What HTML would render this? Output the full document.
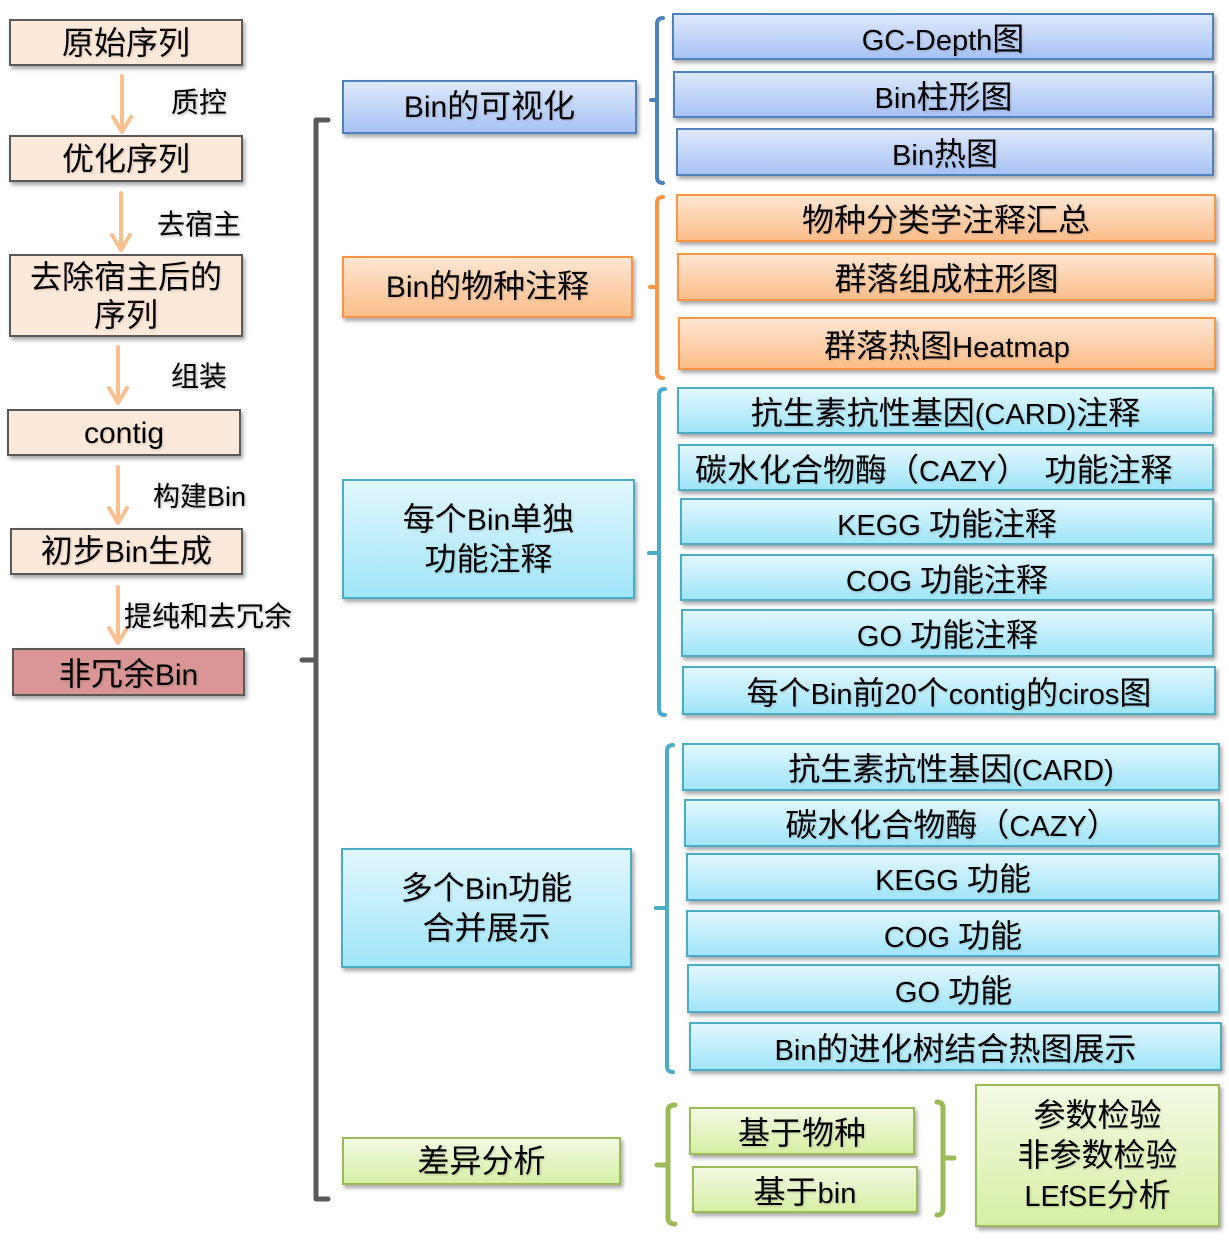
<!DOCTYPE html>
<html>
<head>
<meta charset="utf-8">
<style>
html,body{margin:0;padding:0;background:#fff;}
body{width:1229px;height:1246px;position:relative;overflow:hidden;
font-family:"Liberation Sans","Noto Sans CJK SC","WenQuanYi Zen Hei",sans-serif;color:#000;}
.b{position:absolute;box-sizing:border-box;display:flex;align-items:center;justify-content:center;
text-align:center;white-space:nowrap;box-shadow:2px 3px 4px rgba(0,0,0,0.35);
text-shadow:1px 1px 2px rgba(0,0,0,0.18);font-size:32px;}
.e{font-size:29px;}
.m .e,.L .e,.R .e{font-size:30px;}
.L{background:#fde9d9;border:2px solid #595959;line-height:38px;}
.R{background:#d99694;border:2px solid #595959;}
.bl{background:linear-gradient(to bottom,#dde8fb,#a8c3f4);border:2px solid #4f81bd;}
.or{background:linear-gradient(to bottom,#fde6d3,#fbbd89);border:2px solid #f79646;}
.te{background:linear-gradient(to bottom,#e2f7fd,#a0e5f9);border:2px solid #4bacc6;}
.gr{background:linear-gradient(to bottom,#f3fae4,#d6efa4);border:2px solid #9bbb59;}
.m{line-height:38px;}
.lab{position:absolute;height:40px;line-height:40px;white-space:nowrap;font-size:28px;
text-shadow:1px 1px 3px rgba(0,0,0,0.35);}
svg{position:absolute;left:0;top:0;}
</style>
</head>
<body>
<svg width="1229" height="1246" viewBox="0 0 1229 1246">
  <g fill="none" stroke="#fac090" stroke-width="4" stroke-linecap="round" stroke-linejoin="round">
    <path d="M122 76 L122 131"/><path d="M113 117 L122 132 L131 117"/>
    <path d="M121 193 L121 249"/><path d="M112 235 L121 250 L130 235"/>
    <path d="M118 347 L118 402"/><path d="M109 388 L118 403 L127 388"/>
    <path d="M118 467 L118 522"/><path d="M109 508 L118 523 L127 508"/>
    <path d="M118 587 L118 642"/><path d="M109 628 L118 643 L127 628"/>
  </g>
  <g fill="none" stroke-linecap="round" stroke-linejoin="round">
    <path d="M328 120 L316 120 L316 1199 L328 1199 M316 660 L302 660" stroke="#595959" stroke-width="5"/>
    <path d="M663 18 Q657 18 657 24 L657 177 Q657 183 663 183 M657 100 L651 100" stroke="#4f81bd" stroke-width="4"/>
    <path d="M663 197 Q657 197 657 203 L657 372 Q657 378 663 378 M657 287 L650 287" stroke="#f79646" stroke-width="4"/>
    <path d="M665 389 Q659 389 659 395 L659 709 Q659 715 665 715 M659 553 L649 553" stroke="#4bacc6" stroke-width="4"/>
    <path d="M673 745 Q667 745 667 751 L667 1066 Q667 1072 673 1072 M667 908 L656 908" stroke="#4bacc6" stroke-width="4"/>
    <path d="M675 1105 Q668 1105 668 1111 L668 1218 Q668 1224 675 1224 M668 1165 L657 1165" stroke="#9bbb59" stroke-width="5"/>
    <path d="M937 1102 Q943 1102 943 1108 L943 1209 Q943 1215 937 1215 M943 1158 L954 1158" stroke="#9bbb59" stroke-width="5"/>
  </g>
</svg>

<!-- left column -->
<div class="b L" style="left:9px;top:19px;width:234px;height:47px;"><span>原始序列</span></div>
<div class="b L" style="left:9px;top:135px;width:234px;height:47px;"><span>优化序列</span></div>
<div class="b L" style="left:9px;top:254px;width:234px;height:83px;"><span>去除宿主后的<br>序列</span></div>
<div class="b L" style="left:7px;top:409px;width:234px;height:47px;"><span><span class="e">contig</span></span></div>
<div class="b L" style="left:10px;top:528px;width:233px;height:47px;"><span>初步<span class="e">Bin</span>生成</span></div>
<div class="b R" style="left:12px;top:648px;width:233px;height:48px;"><span>非冗余<span class="e">Bin</span></span></div>

<div class="lab" style="left:171px;top:83px;">质控</div>
<div class="lab" style="left:157px;top:205px;">去宿主</div>
<div class="lab" style="left:171px;top:357px;">组装</div>
<div class="lab" style="left:153px;top:477px;font-size:27px;">构建Bin</div>
<div class="lab" style="left:124px;top:597px;">提纯和去冗余</div>

<!-- middle column -->
<div class="b bl m" style="left:342px;top:80px;width:295px;height:54px;"><span><span class="e">Bin</span>的可视化</span></div>
<div class="b or m" style="left:342px;top:256px;width:291px;height:62px;"><span><span class="e">Bin</span>的物种注释</span></div>
<div class="b te m" style="left:342px;top:479px;width:293px;height:120px;"><div>每个<span class="e">Bin</span>单独<br>功能注释</div></div>
<div class="b te m" style="left:341px;top:848px;width:291px;height:120px;"><div>多个<span class="e">Bin</span>功能<br>合并展示</div></div>
<div class="b gr m" style="left:342px;top:1137px;width:279px;height:48px;"><span>差异分析</span></div>

<!-- right: blue -->
<div class="b bl" style="left:672px;top:13px;width:542px;height:47px;"><span><span class="e">GC-Depth</span>图</span></div>
<div class="b bl" style="left:673px;top:71px;width:541px;height:47px;"><span><span class="e">Bin</span>柱形图</span></div>
<div class="b bl" style="left:676px;top:128px;width:538px;height:48px;"><span><span class="e">Bin</span>热图</span></div>

<!-- right: orange -->
<div class="b or" style="left:676px;top:194px;width:540px;height:48px;"><span>物种分类学注释汇总</span></div>
<div class="b or" style="left:677px;top:253px;width:539px;height:48px;"><span>群落组成柱形图</span></div>
<div class="b or" style="left:678px;top:317px;width:538px;height:53px;"><span>群落热图<span class="e">Heatmap</span></span></div>

<!-- right: teal 1 -->
<div class="b te" style="left:677px;top:387px;width:537px;height:47px;"><span>抗生素抗性基因<span class="e">(CARD)</span>注释</span></div>
<div class="b te" style="left:678px;top:444px;width:536px;height:47px;justify-content:flex-start;padding-left:15px;"><span>碳水化合物酶（<span class="e">CAZY</span>）<span class="e">&nbsp;&nbsp;</span>功能注释</span></div>
<div class="b te" style="left:680px;top:498px;width:534px;height:47px;"><span><span class="e">KEGG&nbsp;</span>功能注释</span></div>
<div class="b te" style="left:680px;top:554px;width:534px;height:47px;"><span><span class="e">COG&nbsp;</span>功能注释</span></div>
<div class="b te" style="left:681px;top:609px;width:533px;height:48px;"><span><span class="e">GO&nbsp;</span>功能注释</span></div>
<div class="b te" style="left:682px;top:666px;width:534px;height:49px;"><span>每个<span class="e">Bin</span>前<span class="e">20</span>个<span class="e">contig</span>的<span class="e">ciros</span>图</span></div>

<!-- right: teal 2 -->
<div class="b te" style="left:682px;top:743px;width:538px;height:48px;"><span>抗生素抗性基因<span class="e">(CARD)</span></span></div>
<div class="b te" style="left:684px;top:799px;width:536px;height:48px;"><span>碳水化合物酶（<span class="e">CAZY</span>）</span></div>
<div class="b te" style="left:686px;top:853px;width:534px;height:48px;"><span><span class="e">KEGG&nbsp;</span>功能</span></div>
<div class="b te" style="left:686px;top:910px;width:534px;height:47px;"><span><span class="e">COG&nbsp;</span>功能</span></div>
<div class="b te" style="left:687px;top:964px;width:533px;height:49px;"><span><span class="e">GO&nbsp;</span>功能</span></div>
<div class="b te" style="left:689px;top:1022px;width:533px;height:49px;"><span><span class="e">Bin</span>的进化树结合热图展示</span></div>

<!-- right: green -->
<div class="b gr" style="left:689px;top:1107px;width:226px;height:48px;"><span>基于物种</span></div>
<div class="b gr" style="left:692px;top:1166px;width:226px;height:47px;"><span>基于<span class="e">bin</span></span></div>
<div class="b gr" style="left:975px;top:1084px;width:245px;height:143px;line-height:40px;"><div>参数检验<br>非参数检验<br><span class="e">LEfSE</span>分析</div></div>
</body>
</html>
